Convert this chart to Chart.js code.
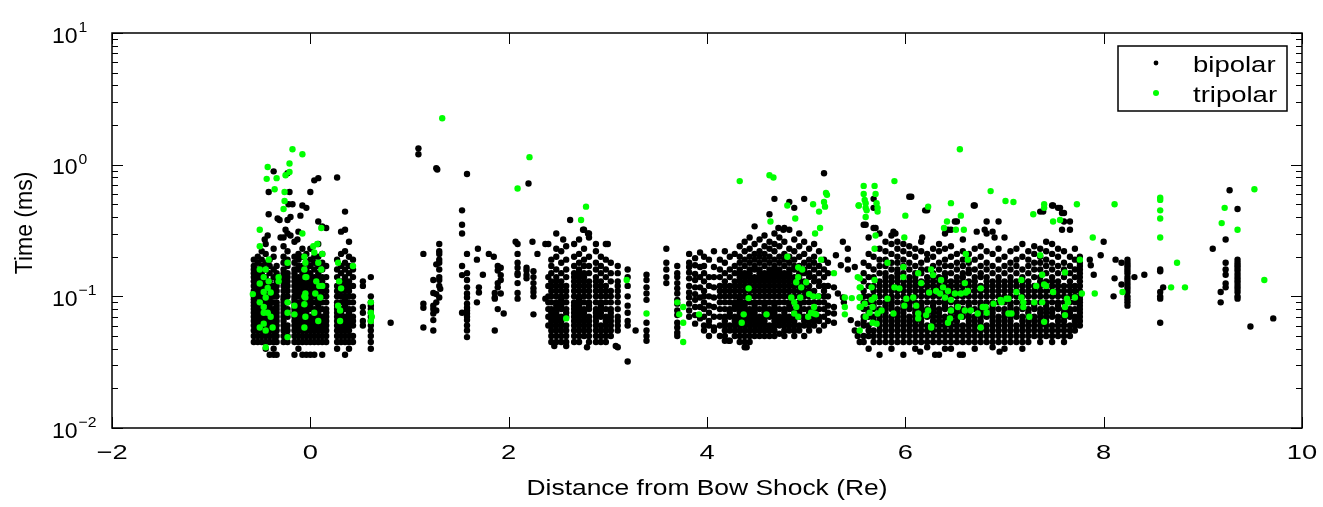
<!DOCTYPE html>
<html>
<head>
<meta charset="utf-8">
<script src="https://cdn.jsdelivr.net/npm/chart.js@4.4.0/dist/chart.umd.min.js"></script>
<style>
html, body { margin: 0; padding: 0; background: #fff; }
#wrap { width: 1323px; height: 507px; position: relative; }
</style>
</head>
<body>
<div id="wrap"><canvas id="scatterChart"></canvas></div>
<script>
// axis ticks
const xTicks = [-2, 0, 2, 4, 6, 8, 10];
const yTicks = [0.01, 0.1, 1, 10];
const yTickExp = ['\u22122', '\u22121', '0', '1'];
const seriesNames = ['bipolar', 'tripolar'];

// bipolar, stacked columns: [distance, [times in ms]]
const bipolarCols = [
  [-0.57, [.045,.05,.055,.06,.065,.07,.075,.08,.085,.09,.095,.1,.11,.12,.13,.14,.15,.16,.17,.19]],
  [-0.53, [.045,.05,.055,.06,.065,.07,.075,.08,.085,.09,.1,.105,.11,.12,.13,.14,.15,.16,.18,.2]],
  [-0.49, [.045,.05,.055,.06,.065,.07,.075,.08,.085,.09,.095,.1,.11,.12,.13,.14,.15,.17,.19,.22]],
  [-0.45, [.04,.045,.05,.055,.06,.065,.07,.075,.08,.09,.1,.11,.12,.13,.14,.16,.18,.21,.25]],
  [-0.41, [.036,.045,.05,.055,.06,.065,.07,.08,.085,.09,.095,.1,.11,.12,.13,.15,.17,.19]],
  [-0.37, [.036,.04,.045,.05,.055,.06,.065,.07,.075,.08,.09,.1,.11,.12,.14,.16,.2,.23]],
  [-0.34, [.036,.045,.05,.055,.06,.065,.07,.075,.08,.085,.09,.1,.11,.12,.13,.15,.17]],
  [-0.27, [.045,.05,.055,.06,.065,.07,.075,.08,.085,.09,.095,.1,.11,.12,.13,.14,.15,.16,.18,.2,.24,.28]],
  [-0.23, [.045,.05,.055,.06,.07,.075,.08,.09,.1,.11,.12,.13,.14,.15,.17,.19,.22,.3,.38]],
  [-0.16, [.036,.045,.05,.055,.06,.065,.07,.075,.08,.085,.09,.095,.1,.11,.12,.13,.14,.15,.16,.18,.2,.26]],
  [-0.12, [.04,.045,.05,.055,.06,.065,.07,.075,.08,.085,.09,.1,.105,.11,.12,.13,.14,.16,.17,.19,.21,.31]],
  [-0.08, [.036,.045,.05,.055,.06,.065,.07,.075,.08,.09,.095,.1,.11,.12,.13,.14,.15,.17,.2,.23,.49]],
  [-0.04, [.036,.045,.05,.055,.06,.065,.07,.075,.08,.085,.09,.1,.11,.12,.13,.15,.16,.18,.21,.47]],
  [0.00, [.036,.045,.05,.055,.06,.065,.07,.08,.085,.09,.095,.1,.11,.12,.13,.14,.15,.17,.19,.23,.62]],
  [0.04, [.036,.045,.05,.055,.06,.065,.07,.075,.08,.09,.1,.11,.12,.13,.14,.16,.18,.2,.76]],
  [0.08, [.045,.05,.055,.06,.065,.07,.075,.08,.085,.09,.095,.1,.11,.12,.13,.14,.15,.17,.2,.25,.37,.79]],
  [0.12, [.036,.045,.05,.055,.06,.065,.07,.08,.09,.1,.11,.12,.13,.14,.16,.18,.21,.34]],
  [0.16, [.045,.05,.055,.06,.065,.07,.075,.08,.09,.1,.11,.12,.14,.17,.33]],
  [0.27, [.04,.045,.05,.055,.06,.065,.07,.075,.08,.085,.09,.1,.11,.12,.14,.16,.19,.8]],
  [0.31, [.045,.05,.055,.06,.065,.07,.075,.08,.09,.1,.11,.12,.13,.15,.17,.21,.31]],
  [0.35, [.036,.045,.05,.055,.06,.065,.07,.08,.085,.09,.095,.1,.11,.12,.13,.14,.16,.18,.22,.32,.44]],
  [0.39, [.04,.045,.05,.055,.06,.065,.07,.075,.08,.09,.1,.11,.12,.13,.15,.17,.2,.26]],
  [0.43, [.045,.05,.06,.065,.07,.08,.09,.1,.12,.14,.16,.19]],
  [0.53, [.06,.065,.075,.083,.12,.13]],
  [0.61, [.04,.045,.05,.055,.06,.065,.07,.075,.08,.085,.09,.1,.14]],
  [1.30, [.25,.22,.21,.19,.18,.16,.14,.133,.12,.098]],
  [1.27, [.175,.104,.09,.078]],
  [1.24, [.133,.106,.085,.08,.074,.066,.055]],
  [1.53, [.45,.35,.3,.17,.145,.075]],
  [1.58, [.21,.15,.133,.117,.105,.098,.088,.082,.078,.074,.07,.066,.06,.055,.049]],
  [1.86, [.106,.098,.096,.055]],
  [1.89, [.17,.157,.126,.117,.08]],
  [1.92, [.165,.145,.133,.105]],
  [2.09, [.25,.21,.18,.165,.15,.145,.126,.106,.096]],
  [2.18, [.165,.157,.145,.137]],
  [2.25, [.155,.14,.126,.115,.108,.1,.073]],
  [2.40, [.06,.07,.08,.09,.1,.12,.14,.25]],
  [2.43, [.045,.05,.055,.06,.065,.07,.075,.08,.09,.1,.11,.12,.13,.15,.17,.19]],
  [2.48, [.045,.05,.055,.06,.065,.07,.075,.08,.085,.09,.1,.11,.12,.13,.14,.16,.2,.23,.3]],
  [2.53, [.045,.05,.055,.06,.065,.07,.08,.085,.09,.095,.1,.11,.12,.13,.15,.18,.22]],
  [2.58, [.045,.05,.055,.06,.07,.075,.08,.09,.1,.11,.12,.14,.16,.19,.24]],
  [2.66, [.045,.05,.055,.06,.065,.07,.075,.08,.085,.09,.1,.11,.12,.13,.14,.15,.17,.2,.25]],
  [2.71, [.045,.05,.055,.06,.065,.07,.075,.08,.085,.09,.095,.1,.11,.12,.13,.14,.15,.16,.18,.21,.27]],
  [2.76, [.05,.055,.06,.065,.07,.075,.08,.09,.1,.11,.12,.13,.14,.15,.17,.19,.23,.32]],
  [2.81, [.045,.05,.055,.06,.065,.07,.08,.085,.09,.1,.11,.12,.13,.15,.17,.2,.28,.3]],
  [2.88, [.045,.05,.055,.06,.065,.07,.075,.08,.09,.1,.11,.12,.13,.14,.16,.18,.22,.25]],
  [2.93, [.045,.05,.055,.06,.07,.075,.08,.085,.09,.1,.11,.12,.13,.15,.17,.2]],
  [2.98, [.045,.05,.055,.06,.065,.07,.08,.09,.1,.11,.12,.14,.16,.19,.25]],
  [3.03, [.05,.055,.06,.065,.07,.075,.08,.09,.1,.11,.13,.15,.18]],
  [3.10, [.041,.055,.06,.065,.07,.08,.09,.1,.11,.12,.13,.15,.17]],
  [3.20, [.032,.06,.065,.075,.085,.1,.12,.14,.16]],
  [3.39, [.146,.133,.117,.105,.094,.063,.055,.05,.046]],
  [3.59, [.23,.18,.16,.14,.126]],
  [3.70, [.17,.15,.14,.126,.115,.105,.094,.088,.078,.072,.063,.058,.053,.05]],
  [3.82, [.21,.18,.167,.152,.137,.12,.107,.098,.088,.078,.07]],
  [3.88, [.195,.172,.148,.133,.117,.104,.094,.083,.072,.062]],
  [3.93, [.215,.167,.14,.117,.098,.083,.068]],
  [3.97, [.055,.06,.07,.08,.09,.1,.11,.13,.15,.17,.2]],
  [4.02, [.05,.06,.065,.075,.085,.1,.12,.14,.19]],
  [4.07, [.055,.058,.07,.083,.098,.117,.14,.167,.22]],
  [4.13, [.05,.06,.07,.08,.09,.1,.11,.12,.14,.16,.19]],
  [4.18, [.046,.05,.055,.06,.065,.07,.08,.09,.1,.11,.12,.13,.15,.18,.22]],
  [4.23, [.046,.055,.06,.07,.075,.08,.09,.1,.11,.12,.14,.16,.2]],
  [4.28, [.05,.055,.06,.065,.07,.08,.085,.09,.1,.11,.12,.13,.15,.17,.21]],
  [4.33, [.045,.05,.055,.06,.065,.07,.075,.08,.085,.09,.095,.1,.11,.12,.13,.14,.15,.16,.18,.2,.24]],
  [4.38, [.041,.045,.05,.055,.06,.065,.07,.075,.08,.085,.09,.1,.11,.12,.13,.14,.15,.17,.19,.22,.26]],
  [4.43, [.045,.05,.055,.06,.065,.07,.075,.08,.09,.1,.11,.12,.13,.14,.15,.16,.18,.2,.23,.28]],
  [4.48, [.05,.055,.06,.065,.07,.075,.08,.085,.09,.1,.11,.12,.13,.14,.16,.17,.19,.21,.25,.34]],
  [4.53, [.05,.055,.06,.065,.07,.08,.09,.1,.11,.12,.13,.14,.15,.16,.18,.2,.22,.27]],
  [4.58, [.05,.055,.06,.065,.07,.075,.08,.085,.09,.1,.11,.12,.13,.14,.15,.17,.19,.21,.24,.29]],
  [4.63, [.05,.055,.06,.07,.075,.08,.09,.1,.11,.12,.13,.14,.15,.16,.18,.2,.23,.26,.42]],
  [4.68, [.05,.055,.06,.065,.07,.075,.08,.085,.09,.1,.11,.12,.13,.14,.15,.16,.17,.19,.22,.25,.3,.55]],
  [4.73, [.052,.06,.065,.07,.08,.09,.1,.11,.12,.13,.14,.15,.16,.18,.2,.24,.28]],
  [4.78, [.05,.055,.06,.065,.07,.075,.08,.09,.1,.11,.12,.13,.14,.15,.17,.19,.21,.26,.33]],
  [4.83, [.055,.06,.065,.07,.08,.085,.09,.1,.11,.12,.13,.14,.15,.16,.18,.2,.23,.32,.52]],
  [4.88, [.05,.055,.06,.065,.07,.075,.08,.09,.1,.11,.12,.13,.14,.16,.17,.19,.22,.27,.47]],
  [4.93, [.055,.06,.07,.075,.08,.085,.09,.1,.11,.12,.13,.14,.15,.17,.2,.24,.3]],
  [4.98, [.05,.06,.065,.07,.08,.09,.1,.11,.12,.13,.15,.16,.18,.21,.26,.55]],
  [5.03, [.055,.06,.065,.075,.08,.09,.1,.11,.12,.14,.15,.17,.19,.23]],
  [5.08, [.06,.065,.07,.08,.09,.1,.11,.13,.14,.16,.18,.2,.25]],
  [5.13, [.055,.065,.07,.08,.09,.1,.12,.13,.15,.17,.22]],
  [5.18, [.06,.07,.08,.09,.1,.11,.12,.14,.16,.19,.86]],
  [5.22, [.065,.075,.085,.1,.12,.15,.18]],
  [5.58, [.045,.05,.06,.065,.07,.08,.09,.1,.11,.13,.15,.18,.35]],
  [5.63, [.04,.05,.055,.06,.07,.075,.08,.09,.1,.12,.14,.17,.21,.28]],
  [5.68, [.045,.05,.055,.065,.07,.08,.085,.09,.1,.11,.12,.14,.16,.2,.33,.47,.55]],
  [5.74, [.036,.045,.05,.055,.06,.065,.07,.075,.08,.09,.1,.11,.12,.13,.15,.17,.19,.23,.3]],
  [5.80, [.045,.05,.055,.06,.065,.07,.075,.08,.085,.09,.1,.11,.12,.13,.14,.15,.17,.19,.22,.26]],
  [5.86, [.04,.045,.05,.055,.06,.065,.07,.08,.085,.09,.095,.1,.11,.12,.13,.14,.16,.18,.21,.25,.29]],
  [5.92, [.045,.05,.055,.06,.065,.07,.075,.08,.09,.1,.11,.12,.13,.14,.15,.16,.18,.2,.23,.26]],
  [5.98, [.036,.045,.05,.055,.06,.065,.07,.075,.08,.085,.09,.1,.11,.12,.13,.15,.17,.19,.22,.25]],
  [6.04, [.045,.05,.055,.06,.065,.07,.08,.085,.09,.095,.1,.11,.12,.13,.14,.16,.18,.21,.24,.57]],
  [6.10, [.04,.045,.05,.055,.06,.065,.07,.075,.08,.09,.1,.11,.12,.13,.14,.15,.17,.2,.23]],
  [6.16, [.045,.05,.055,.06,.065,.07,.075,.08,.085,.09,.1,.11,.12,.13,.15,.16,.18,.22,.26]],
  [6.22, [.041,.045,.05,.055,.06,.07,.075,.08,.09,.1,.11,.12,.13,.14,.16,.19,.21,.45]],
  [6.28, [.045,.05,.055,.06,.065,.07,.075,.08,.085,.09,.1,.11,.12,.13,.14,.15,.17,.2,.23]],
  [6.34, [.036,.045,.05,.055,.06,.065,.07,.075,.08,.09,.1,.11,.12,.13,.14,.16,.18,.22,.25]],
  [6.40, [.045,.05,.055,.06,.065,.07,.08,.085,.09,.095,.1,.11,.12,.13,.14,.15,.17,.19,.23,.3]],
  [6.46, [.04,.045,.05,.055,.06,.065,.07,.075,.08,.09,.1,.11,.12,.13,.15,.17,.2,.24,.32]],
  [6.52, [.045,.05,.055,.06,.065,.07,.075,.08,.085,.09,.1,.11,.12,.13,.14,.16,.18,.21,.37]],
  [6.58, [.036,.045,.05,.055,.06,.07,.075,.08,.09,.1,.11,.12,.13,.14,.15,.17,.19,.22,.27]],
  [6.64, [.045,.05,.055,.06,.065,.07,.075,.08,.085,.09,.1,.11,.12,.13,.15,.16,.18,.21]],
  [6.70, [.04,.045,.05,.055,.06,.065,.07,.08,.09,.1,.11,.12,.13,.14,.16,.19,.23,.49]],
  [6.76, [.045,.05,.055,.06,.065,.07,.075,.08,.085,.09,.1,.11,.12,.14,.15,.17,.2,.24]],
  [6.82, [.045,.05,.055,.06,.07,.075,.08,.09,.1,.11,.12,.13,.14,.16,.18,.22,.3]],
  [6.88, [.041,.045,.05,.055,.06,.065,.07,.075,.08,.085,.09,.1,.11,.12,.13,.15,.17,.21,.31]],
  [6.94, [.045,.05,.055,.06,.065,.07,.08,.09,.1,.11,.12,.13,.14,.16,.19,.23,.37]],
  [7.00, [.04,.045,.05,.055,.06,.065,.07,.075,.08,.09,.1,.11,.12,.13,.15,.17,.2,.28]],
  [7.06, [.045,.05,.055,.06,.065,.07,.075,.08,.085,.09,.1,.11,.12,.13,.14,.16,.18,.22]],
  [7.12, [.045,.05,.055,.06,.07,.075,.08,.09,.1,.11,.12,.13,.15,.17,.19,.23]],
  [7.18, [.04,.045,.05,.055,.06,.065,.07,.08,.085,.09,.1,.11,.12,.13,.14,.16,.2,.25]],
  [7.24, [.045,.05,.055,.06,.065,.07,.075,.08,.09,.1,.11,.12,.13,.15,.17,.19,.22]],
  [7.30, [.05,.055,.06,.065,.07,.08,.085,.09,.1,.11,.12,.14,.16,.18,.21,.24]],
  [7.36, [.045,.05,.055,.06,.065,.07,.075,.08,.09,.1,.11,.12,.13,.14,.16,.18,.2,.23,.44]],
  [7.42, [.05,.055,.06,.065,.07,.075,.08,.085,.09,.1,.11,.12,.13,.15,.17,.19,.22,.26]],
  [7.48, [.045,.05,.055,.06,.07,.075,.08,.09,.1,.11,.12,.13,.14,.16,.18,.21,.25,.49]],
  [7.54, [.05,.055,.06,.065,.07,.08,.085,.09,.1,.11,.12,.13,.15,.17,.2,.23,.47]],
  [7.60, [.045,.05,.055,.06,.065,.07,.075,.08,.09,.1,.11,.12,.14,.16,.18,.22,.43]],
  [7.66, [.05,.055,.06,.07,.075,.08,.09,.1,.11,.12,.13,.15,.17,.2,.32,.37]],
  [7.71, [.055,.06,.065,.07,.08,.09,.1,.11,.12,.14,.16,.19,.23]],
  [7.76, [.06,.065,.07,.075,.08,.085,.09,.095,.1,.11,.12,.13,.14,.15,.16,.17,.18,.2]],
  [8.24, [.19,.18,.172,.165,.157,.15,.14,.133,.126,.12,.114,.108,.1,.095,.09,.085]],
  [8.57, [.16,.155,.108,.1,.096,.063]],
  [9.23, [.27,.18,.16,.146,.125,.117]],
  [9.35, [.46,.19,.18,.172,.165,.157,.148,.14,.133,.127,.12,.114,.108,.1,.096]]
];

// bipolar, single points: [distance, time in ms]
const bipolarPts = [
  [-0.42,.62],[-0.21,.62],[-0.23,.86],[-0.37,.89],[-0.22,.5],[-0.18,.5],[-0.42,.42],[-0.33,.39],
  [-0.31,.38],[-0.2,.4],[-0.1,.41],[-0.25,.32],[-0.2,.29],[-0.3,.28],[-0.13,.27],[-0.43,.29],
  [-0.46,.27],[0.81,.063],
  [1.09,1.33],[1.09,1.2],[1.27,.94],[1.28,.92],[1.58,.85],[1.14,.21],[1.14,.088],[1.14,.082],
  [1.14,.058],[1.31,.114],[1.69,.23],[1.68,.19],[1.80,.21],[1.85,.2],[1.74,.146],[1.70,.117],
  [1.70,.107],[1.68,.09],[1.95,.074],[2.07,.26],[2.24,.26],[2.29,.21],[2.2,.72],[2.37,.25],[2.37,.096],
  [2.62,.38],[2.75,.32],[2.80,.3],[2.55,.27],[2.79,.041],[2.46,.042],[2.58,.042],[3.08,.042],[3.0,.25],[3.28,.055],
  [5.30,.205],[5.35,.172],[5.42,.19],[5.42,.16],[5.49,.167],[5.28,.117],[5.32,.105],[5.37,.098],
  [5.38,.09],[5.28,.083],[5.28,.074],[5.28,.063],[5.45,.066],[5.52,.062],[5.49,.055],[5.52,.05],
  [5.54,.045],[5.37,.26],[5.42,.23],[4.72,.33],[4.77,.32],[4.40,.041],[4.22,.046],
  [6.06,.57],[6.2,.45],[6.69,.49],[6.5,.37],[6.43,.32],[6.82,.37],[6.72,.31],[6.8,.32],[6.9,.28],
  [5.6,.35],[5.7,.33],[5.88,.31],[5.9,.3],[6.17,.28],[7.49,.49],[7.56,.47],[7.39,.44],[7.58,.43],
  [7.6,.37],[7.58,.32],[6.3,.036],[6.55,.036],[6.15,.038],[6.95,.038],[6.4,.04],
  [7.86,.19],[7.87,.172],[7.90,.146],[7.97,.205],[8.0,.26],[8.12,.19],[8.18,.18],[8.11,.137],
  [8.18,.123],[8.1,.1],[8.31,.14],[8.41,.146],[8.60,.117],
  [9.27,.64],[9.10,.23],[9.18,.108],[9.18,.09],[9.48,.059],[9.71,.068]
];

// tripolar: [distance, time in ms]
const tripolarPts = [
  [-0.18,1.31],[-0.08,1.2],[-0.43,.96],[-0.21,1.02],[-0.21,.88],[-0.25,.83],[-0.44,.78],[-0.34,.79],
  [-0.36,.65],[-0.26,.62],[-0.26,.53],[-0.27,.46],[-0.51,.32],[-0.08,.30],[0.11,.33],[-0.51,.24],
  [0.07,.25],[0.03,.24],[0.12,.21],[-0.42,.19],
  [-0.51,.16],[-0.45,.16],[-0.47,.14],[-0.42,.13],[-0.51,.125],[-0.43,.116],[-0.47,.108],[-0.40,.107],
  [-0.45,.098],[-0.51,.09],[-0.47,.083],[-0.43,.075],[-0.40,.07],[-0.47,.075],[-0.47,.062],[-0.38,.058],
  [-0.51,.058],[-0.45,.055],[-0.58,.104],[-0.45,.041],
  [-0.32,.14],[-0.32,.13],[-0.23,.18],[-0.23,.09],[-0.23,.075],[-0.23,.049],[-0.16,.085],[-0.16,.073],
  [-0.06,.2],[-0.05,.18],[-0.06,.16],[-0.05,.14],[-0.04,.14],[-0.06,.1],[-0.05,.105],[-0.05,.098],
  [-0.06,.087],[-0.05,.07],[-0.06,.058],
  [0.04,.215],[0.08,.18],[0.11,.16],[0.06,.13],[0.09,.12],[0.12,.12],[0.05,.105],[0.1,.098],[0.04,.075],[0.08,.065],
  [0.28,.18],[0.29,.13],[0.31,.115],[0.28,.085],[0.3,.078],[0.3,.065],[0.43,.17],
  [0.61,.09],[0.61,.075],[0.62,.07],[0.61,.065],
  [1.33,2.25],[2.21,1.14],[2.09,.66],
  [2.78,.48],[2.73,.38],[3.19,.133],[2.58,.068],[3.39,.074],
  [3.70,.09],[3.76,.083],[3.72,.073],[3.76,.063],[3.76,.045],[3.92,.073],
  [4.33,.75],[4.63,.83],[4.67,.80],[4.81,.49],[4.89,.39],[4.64,.37],[5.07,.5],[5.13,.44],[5.18,.52],
  [5.19,.48],[5.20,.61],[5.21,.59],[5.14,.33],[5.09,.30],[5.53,.49],[5.15,.19],[4.81,.2],
  [4.92,.166],[4.96,.16],[4.92,.14],[4.90,.128],[5.0,.128],[4.95,.117],[4.94,.098],[5.03,.104],
  [5.07,.1],[5.12,.1],[4.85,.098],[4.88,.09],[4.90,.083],[4.88,.074],[4.92,.07],[5.05,.075],
  [5.08,.074],[5.10,.073],[5.02,.07],[5.08,.083],
  [4.42,.115],[4.42,.097],[4.37,.073],[4.35,.063],[4.60,.073],[5.28,.15],[5.39,.098],[5.39,.083],
  [5.39,.073],[5.46,.097],[5.54,.137],[5.54,.117],[5.54,.098],[5.54,.083],[5.54,.055],
  [5.58,.69],[5.58,.6],[5.59,.54],[5.6,.51],[5.6,.47],[5.61,.45],[5.6,.4],[5.53,.49],[5.69,.69],
  [5.7,.6],[5.71,.51],[5.72,.47],[5.72,.44],[5.89,.75],[6.0,.41],[6.23,.48],[6.55,1.31],[6.86,.63],
  [7.01,.53],[6.46,.51],[6.42,.37],[6.39,.33],[6.51,.32],[6.56,.41],[6.59,.32],[5.99,.28],[5.70,.29],[5.69,.23],
  [5.52,.14],[5.55,.117],[5.66,.117],[5.69,.133],[5.54,.098],[5.59,.088],[5.55,.083],[5.66,.094],
  [5.69,.098],[5.67,.083],[5.64,.075],[5.6,.07],[5.67,.063],[5.71,.062],[5.82,.18],[5.89,.117],
  [5.94,.115],[5.98,.167],[5.98,.14],[5.82,.096],[6.01,.096],[5.99,.085],[5.88,.074],[5.76,.078],
  [5.72,.074],[6.08,.098],[6.11,.085],[6.13,.074],[6.13,.068],[6.16,.126],[6.13,.15],[6.26,.16],
  [6.28,.145],[6.24,.107],[6.23,.078],[6.21,.072],[6.26,.059],[6.31,.11],[6.35,.105],[6.36,.133],
  [6.38,.117],[6.4,.098],[6.43,.11],[6.46,.094],[6.5,.105],[6.53,.083],[6.46,.078],[6.45,.068],
  [6.43,.063],[6.56,.105],[6.61,.107],[6.63,.11],[6.6,.126],[6.61,.21],[6.63,.19],[6.6,.078],
  [6.56,.07],[6.66,.078],[6.73,.074],[6.78,.083],[6.81,.083],[6.82,.075],[6.89,.088],[6.96,.094],
  [7.02,.096],[7.04,.074],[6.76,.115],[6.76,.058],[6.26,.058],
  [7.36,.205],[7.38,.146],[7.42,.12],[7.4,.123],[7.32,.12],[7.49,.108],[7.17,.133],[7.12,.108],
  [7.17,.098],[7.19,.09],[7.19,.083],[7.04,.096],[6.97,.09],[7.07,.074],[7.25,.07],[7.3,.09],
  [7.38,.09],[7.61,.152],[7.76,.19],[7.71,.098],[7.78,.105],[7.63,.096],[7.64,.09],[7.61,.083],
  [7.61,.072],[7.4,.064],
  [7.09,.52],[7.40,.5],[7.40,.47],[7.29,.42],[7.49,.37],[7.56,.38],[7.73,.5],[8.11,.5],[7.89,.28],
  [7.91,.105],[8.19,.108],[8.57,.56],[8.57,.54],[8.57,.45],[8.57,.39],[8.57,.28],
  [8.74,.18],[8.68,.117],[8.82,.117],[9.22,.47],[9.19,.36],[9.35,.32],[9.52,.65],[9.62,.133]
];

// データ作成
var bipolarData = [];
bipolarCols.forEach(function (c) {
  c[1].forEach(function (t) { bipolarData.push({ x: c[0], y: t }); });
});
bipolarPts.forEach(function (p) { bipolarData.push({ x: p[0], y: p[1] }); });
var tripolarData = tripolarPts.map(function (p) { return { x: p[0], y: p[1] }; });

const seriesColors = ['#000000', '#00ff00'];
const fontFamily = '"Liberation Sans", Arial, sans-serif';

function drawStretched(ctx, text, x, y, sx, align) {
  ctx.save();
  ctx.translate(x, y);
  ctx.scale(sx, 1);
  ctx.textAlign = align;
  ctx.fillText(text, 0, 0);
  ctx.restore();
}

// MATLAB-like box, inward ticks, labels, legend
const matlabAxes = {
  id: 'matlabAxes',
  afterDatasetsDraw(chart) {
    const ctx = chart.ctx;
    const a = chart.chartArea;
    const xs = chart.scales.x;
    const ys = chart.scales.y;
    ctx.save();
    ctx.strokeStyle = '#000';
    ctx.lineWidth = 1.5;
    ctx.strokeRect(a.left, a.top, a.right - a.left, a.bottom - a.top);

    ctx.lineWidth = 1;
    ctx.beginPath();
    xTicks.forEach(function (v) {
      const px = Math.round(xs.getPixelForValue(v)) + 0.5;
      ctx.moveTo(px, a.bottom); ctx.lineTo(px, a.bottom - 11);
      ctx.moveTo(px, a.top); ctx.lineTo(px, a.top + 11);
    });
    yTicks.forEach(function (v, i) {
      const py = Math.round(ys.getPixelForValue(v)) + 0.5;
      ctx.moveTo(a.left, py); ctx.lineTo(a.left + 11, py);
      ctx.moveTo(a.right, py); ctx.lineTo(a.right - 11, py);
      if (i < yTicks.length - 1) {
        for (let k = 2; k <= 9; k++) {
          const pm = Math.round(ys.getPixelForValue(v * k)) + 0.5;
          ctx.moveTo(a.left, pm); ctx.lineTo(a.left + 6, pm);
          ctx.moveTo(a.right, pm); ctx.lineTo(a.right - 6, pm);
        }
      }
    });
    ctx.stroke();

    ctx.fillStyle = '#000';
    ctx.textBaseline = 'alphabetic';
    ctx.font = '21px ' + fontFamily;
    xTicks.forEach(function (v) {
      const label = v < 0 ? '\u2212' + Math.abs(v) : String(v);
      drawStretched(ctx, label, xs.getPixelForValue(v), a.bottom + 31, 1.3, 'center');
    });
    yTicks.forEach(function (v, i) {
      const py = ys.getPixelForValue(v);
      ctx.font = '22px ' + fontFamily;
      drawStretched(ctx, '10', 52, py + 9.5, 1.05, 'left');
      ctx.font = '15px ' + fontFamily;
      drawStretched(ctx, yTickExp[i], 78.5, py - 1, 1.05, 'left');
    });

    // axis titles
    ctx.font = '22px ' + fontFamily;
    drawStretched(ctx, 'Distance from Bow Shock (Re)', (a.left + a.right) / 2, 495, 1.2, 'center');
    ctx.save();
    ctx.translate(32, 223);
    ctx.rotate(-Math.PI / 2);
    ctx.textAlign = 'center';
    ctx.font = '23px ' + fontFamily;
    ctx.fillText('Time (ms)', 0, 0);
    ctx.restore();

    // legend
    ctx.fillStyle = '#fff';
    ctx.fillRect(1118, 46, 169, 65);
    ctx.lineWidth = 1.5;
    ctx.strokeRect(1118, 46, 169, 65);
    seriesNames.forEach(function (name, i) {
      const cy = 63 + i * 30;
      ctx.fillStyle = seriesColors[i];
      ctx.beginPath();
      ctx.arc(1156, cy, i === 0 ? 2.4 : 3, 0, Math.PI * 2);
      ctx.fill();
      ctx.fillStyle = '#000';
      ctx.font = '22px ' + fontFamily;
      drawStretched(ctx, name, 1193, cy + 9, 1.25, 'left');
    });
    ctx.restore();
  }
};

var scatterChart = new Chart(document.getElementById('scatterChart'), {
  type: 'scatter',
  data: {
    datasets: [{
      label: seriesNames[0],
      data: bipolarData,
      backgroundColor: seriesColors[0],
      borderWidth: 0,
      pointRadius: 3.2,
      order: 2
    }, {
      label: seriesNames[1],
      data: tripolarData,
      backgroundColor: seriesColors[1],
      borderWidth: 0,
      pointRadius: 3.2,
      order: 1
    }]
  },
  options: {
    responsive: true,
    maintainAspectRatio: false,
    animation: false,
    layout: { padding: { top: 33, right: 21, left: 0, bottom: 0 } },
    plugins: { legend: { display: false }, tooltip: { enabled: false } },
    scales: {
      x: {
        type: 'linear', min: -2, max: 10,
        ticks: { display: false },
        grid: { display: false },
        border: { display: false },
        afterFit: function (scale) { scale.height = 79; }
      },
      y: {
        type: 'logarithmic', min: 0.01, max: 10,
        ticks: { display: false },
        grid: { display: false },
        border: { display: false },
        afterFit: function (scale) { scale.width = 112; }
      }
    }
  },
  plugins: [matlabAxes]
});
</script>
</body>
</html>
